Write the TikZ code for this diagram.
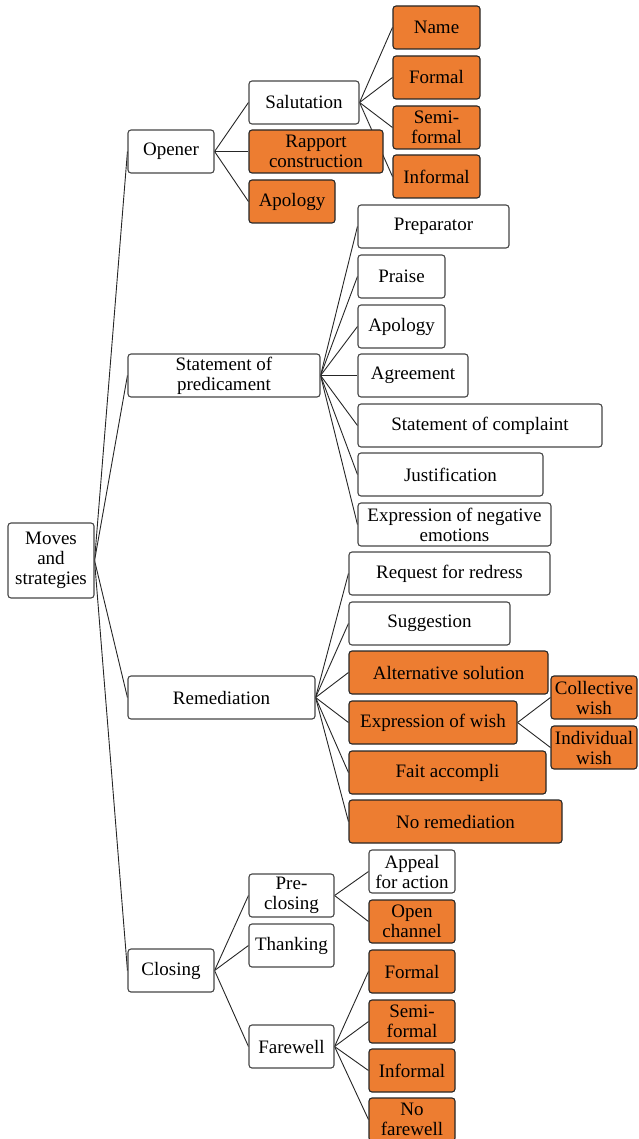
\documentclass[tikz,border=0pt]{standalone}
\usepackage{fontspec}
\setmainfont{Liberation Serif}
\usetikzlibrary{backgrounds}
\definecolor{stratorange}{RGB}{237,125,49}
\definecolor{boxgray}{RGB}{70,70,70}

\begin{document}
\begin{tikzpicture}[
    x=1pt, y=-1pt,
    every node/.style={font=\fontsize{19}{20}\selectfont},
    box/.style={draw=boxgray, line width=1.1pt, rounded corners=3pt, fill=white,
        minimum height=43pt, align=center, inner sep=2pt},
    obox/.style={box, fill=stratorange, draw=black!85},
    link/.style={draw=black!85, line width=0.9pt}
]
\useasboundingbox (0,0) rectangle (638,1139);

% root and moves
\node[box, minimum width=86pt, minimum height=75pt] (root) at (51,560.5) {Moves\\and\\strategies};
\node[box, minimum width=86pt] (opener) at (171,151.5) {Opener};
\node[box, minimum width=192pt] (stmt) at (224,375.5) {Statement of\\predicament};
\node[box, minimum width=187pt] (remed) at (221.5,697.5) {Remediation};
\node[box, minimum width=86pt] (closing) at (171,970.5) {Closing};

% opener
\node[box, minimum width=110pt] (salut) at (304,102.5) {Salutation};
\node[obox, minimum width=134pt] (rapport) at (316,151.5) {Rapport\\construction};
\node[obox, minimum width=86pt] (apolA) at (292,201.5) {Apology};
\node[obox, minimum width=87pt] (nameA) at (436.5,27.5) {Name};
\node[obox, minimum width=87pt] (formA) at (436.5,77.5) {Formal};
\node[obox, minimum width=87pt] (semiA) at (436.5,127.5) {Semi-\\formal};
\node[obox, minimum width=87pt] (informA) at (436.5,176.5) {Informal};

% statement of predicament
\node[box, minimum width=151pt] (prep) at (433.5,226.5) {Preparator};
\node[box, minimum width=87pt] (praise) at (401.5,276.5) {Praise};
\node[box, minimum width=87pt] (apolB) at (401.5,326.5) {Apology};
\node[box, minimum width=110pt] (agree) at (413,375.5) {Agreement};
\node[box, minimum width=244pt] (complaint) at (480,425.5) {Statement of complaint};
\node[box, minimum width=185pt] (justif) at (450.5,474.5) {Justification};
\node[box, minimum width=193pt] (negemo) at (454.5,524.5) {Expression of negative\\emotions};

% remediation
\node[box, minimum width=201pt] (redress) at (449.5,573.5) {Request for redress};
\node[box, minimum width=161pt] (suggest) at (429.5,623.5) {Suggestion};
\node[obox, minimum width=199pt] (altsol) at (448.5,672.5) {Alternative solution};
\node[obox, minimum width=168pt] (wish) at (433,722.5) {Expression of wish};
\node[obox, minimum width=197pt] (fait) at (447.5,772.5) {Fait accompli};
\node[obox, minimum width=213pt] (noremed) at (455.5,821.5) {No remediation};
\node[obox, minimum width=86pt] (collwish) at (594,697.5) {Collective\\wish};
\node[obox, minimum width=86pt] (indwish) at (594,747.5) {Individual\\wish};

% closing
\node[box, minimum width=85pt] (preclose) at (291.5,895.5) {Pre-\\closing};
\node[box, minimum width=85pt] (thank) at (291.5,945.5) {Thanking};
\node[box, minimum width=85pt] (farewell) at (291.5,1046.5) {Farewell};
\node[box, minimum width=86pt] (appeal) at (412,871.5) {Appeal\\for action};
\node[obox, minimum width=86pt] (opench) at (412,921.5) {Open\\channel};
\node[obox, minimum width=86pt] (formB) at (412,971.5) {Formal};
\node[obox, minimum width=86pt] (semiB) at (412,1021.5) {Semi-\\formal};
\node[obox, minimum width=86pt] (informB) at (412,1070.5) {Informal};
\node[obox, minimum width=86pt] (nofare) at (412,1119.5) {No\\farewell};

% connectors behind the boxes
\begin{scope}[on background layer]
\foreach \c in {opener,stmt,remed,closing} \draw[link] (root.east) -- (\c.west);
\foreach \c in {salut,rapport,apolA} \draw[link] (opener.east) -- (\c.west);
\foreach \c in {nameA,formA,semiA,informA} \draw[link] (salut.east) -- (\c.west);
\foreach \c in {prep,praise,apolB,agree,complaint,justif,negemo} \draw[link] (stmt.east) -- (\c.west);
\foreach \c in {redress,suggest,altsol,wish,fait,noremed} \draw[link] (remed.east) -- (\c.west);
\foreach \c in {collwish,indwish} \draw[link] (wish.east) -- (\c.west);
\foreach \c in {preclose,thank,farewell} \draw[link] (closing.east) -- (\c.west);
\foreach \c in {appeal,opench} \draw[link] (preclose.east) -- (\c.west);
\foreach \c in {formB,semiB,informB,nofare} \draw[link] (farewell.east) -- (\c.west);
\end{scope}
\end{tikzpicture}
\end{document}
